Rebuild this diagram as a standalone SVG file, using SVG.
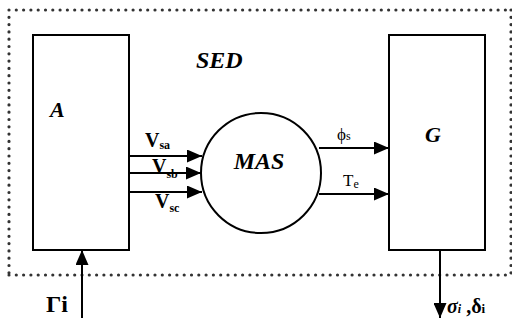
<svg xmlns="http://www.w3.org/2000/svg" width="512" height="320" viewBox="0 0 512 320">
<defs>
<style>
.box{fill:none;stroke:#000;stroke-width:2}
.ln{stroke:#000;stroke-width:2;fill:none}
.dot{fill:none;stroke:#333;stroke-width:3.2;stroke-linecap:round;stroke-dasharray:0 7.3}
text{font-family:'Liberation Serif','Times New Roman',serif;fill:#000}
.bi{font-weight:bold;font-style:italic}
.b{font-weight:bold}
</style>
<marker id="ah" viewBox="0 0 15 13" refX="15" refY="6.5" markerWidth="15" markerHeight="13" markerUnits="userSpaceOnUse" orient="auto">
<path d="M0,0 L15,6.5 L0,13 Z" fill="#000"/>
</marker>
</defs>
<rect x="0" y="0" width="512" height="320" fill="#fff"/>
<g id="sed">
<path class="dot" d="M9,10 H511 M9,10 V275 M9,275 H511 M511,10 V275"/>
<text class="bi" x="196" y="68" font-size="24">SED</text>
</g>
<g id="A">
<rect class="box" x="33" y="35" width="96" height="215"/>
<text class="bi" x="50" y="117" font-size="22">A</text>
</g>
<g id="MAS">
<circle class="box" cx="261" cy="173" r="60"/>
<text class="bi" x="259" y="169" font-size="24" text-anchor="middle">MAS</text>
</g>
<g id="G">
<rect class="box" x="389" y="35" width="96" height="215"/>
<text class="bi" x="425" y="142" font-size="22">G</text>
</g>
<g id="connectors">
<line class="ln" x1="129" y1="156" x2="202" y2="156" marker-end="url(#ah)"/>
<line class="ln" x1="129" y1="173" x2="201" y2="173" marker-end="url(#ah)"/>
<line class="ln" x1="129" y1="192" x2="202" y2="192" marker-end="url(#ah)"/>
<line class="ln" x1="319" y1="148" x2="389" y2="148" marker-end="url(#ah)"/>
<line class="ln" x1="319" y1="194" x2="389" y2="194" marker-end="url(#ah)"/>
<line class="ln" x1="82" y1="318" x2="82" y2="250" marker-end="url(#ah)"/>
<line class="ln" x1="440" y1="250" x2="440" y2="318" marker-end="url(#ah)"/>
</g>
<g id="labels">
<text class="b" x="145" y="147" font-size="20">V<tspan font-size="12" dy="2">sa</tspan></text>
<text class="b" x="152" y="173" font-size="20">V<tspan font-size="12" dy="5">sb</tspan></text>
<text class="b" x="155" y="208" font-size="20">V<tspan font-size="12" dy="4">sc</tspan></text>
<text x="337" y="140" font-size="17">ϕ<tspan font-size="12">s</tspan></text>
<text x="343" y="186" font-size="17">T<tspan font-size="12" dy="2">e</tspan></text>
<text class="b" x="46" y="312" font-size="24">Γi</text>
<text class="bi" x="447" y="313" font-size="20">σ<tspan font-size="12">i</tspan><tspan font-style="normal"> ,δ</tspan><tspan font-style="normal" font-size="13">i</tspan></text>
</g>
</svg>
